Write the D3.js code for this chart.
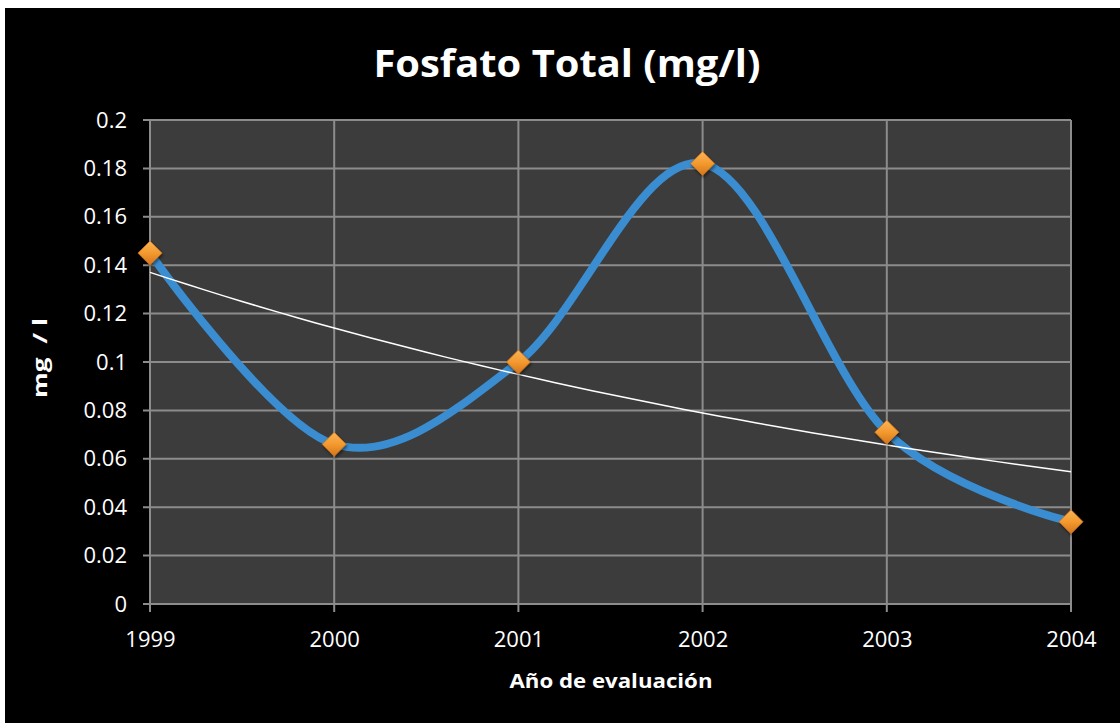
<!DOCTYPE html>
<html><head><meta charset="utf-8">
<script src="https://cdn.jsdelivr.net/npm/d3@7"></script>
<style>
html,body{margin:0;padding:0;background:#fff;}
svg{display:block;}
</style></head>
<body>
<svg id="c" width="1120" height="723"></svg>
<script>
const years = [1999, 2000, 2001, 2002, 2003, 2004];
const values = [0.145, 0.066, 0.100, 0.182, 0.071, 0.034];
const yTicks = [0, 0.02, 0.04, 0.06, 0.08, 0.1, 0.12, 0.14, 0.16, 0.18, 0.2];
const title = "Fosfato Total (mg/l)";
const xTitle = "Año de evaluación";
const yTitle = "mg  / l";

const svg = d3.select("#c");
const W = 1120, H = 723;
svg.append("rect").attr("x", 5).attr("y", 8).attr("width", W - 5).attr("height", H - 8).attr("fill", "#000");

const m = {l: 150, r: 1071, t: 120, b: 604};
const x = d3.scaleLinear().domain([1999, 2004]).range([m.l, m.r]);
const y = d3.scaleLinear().domain([0, 0.2]).range([m.b, m.t]);

svg.append("rect").attr("x", m.l).attr("y", m.t).attr("width", m.r - m.l).attr("height", m.b - m.t).attr("fill", "#3c3c3c");

// gridlines
const grid = svg.append("g").attr("stroke", "#8c8c8c").attr("stroke-width", 2);
yTicks.forEach(t => grid.append("line").attr("x1", m.l - 7).attr("x2", m.r).attr("y1", y(t)).attr("y2", y(t)));
years.forEach(t => grid.append("line").attr("x1", x(t)).attr("x2", x(t)).attr("y1", m.t).attr("y2", m.b + 8));

// tick labels
const yAxis = d3.axisLeft(y).tickValues(yTicks).tickFormat(d => String(+d.toFixed(2))).tickSize(0).tickPadding(23);
const gy = svg.append("g").attr("transform", `translate(${m.l},0)`).call(yAxis);
gy.select(".domain").remove();
gy.selectAll("text").attr("fill", "#fff").style("font-family", "'Open Sans', sans-serif").style("font-size", "22px");

const xAxis = d3.axisBottom(x).tickValues(years).tickFormat(d3.format("d")).tickSize(0).tickPadding(27);
const gx = svg.append("g").attr("transform", `translate(0,${m.b})`).call(xAxis);
gx.select(".domain").remove();
gx.selectAll("text").attr("fill", "#fff").style("font-family", "'Open Sans', sans-serif").style("font-size", "22px");

// data line
const pts = years.map((yr, i) => [yr, values[i]]);
svg.append("path").datum(pts)
  .attr("d", d3.line().x(d => x(d[0])).y(d => y(d[1])).curve(d3.curveCardinal.tension(0)))
  .attr("fill", "none").attr("stroke", "#3a8dd0").attr("stroke-width", 8).attr("stroke-linecap", "round");

// exponential trendline (least squares on log values)
const xs = years.map(v => v - 1999), ls = values.map(Math.log);
const mx = d3.mean(xs), my = d3.mean(ls);
const b = d3.sum(xs.map((v, i) => (v - mx) * (ls[i] - my))) / d3.sum(xs.map(v => (v - mx) ** 2));
const a = my - b * mx;
const trend = d3.range(0, 5.001, 0.1).map(t => [1999 + t, Math.exp(a + b * t)]);
svg.append("path").datum(trend)
  .attr("d", d3.line().x(d => x(d[0])).y(d => y(d[1])))
  .attr("fill", "none").attr("stroke", "#fff").attr("stroke-width", 1.5);

// markers
const defs = svg.append("defs");
const g1 = defs.append("linearGradient").attr("id", "og").attr("x1", 0).attr("y1", 0).attr("x2", 0).attr("y2", 1);
g1.append("stop").attr("offset", 0).attr("stop-color", "#fbb458");
g1.append("stop").attr("offset", 0.5).attr("stop-color", "#f39a2e");
g1.append("stop").attr("offset", 1).attr("stop-color", "#d4741c");
const f = defs.append("filter").attr("id", "sh").attr("x", "-50%").attr("y", "-50%").attr("width", "200%").attr("height", "200%");
f.append("feDropShadow").attr("dx", 1).attr("dy", 2).attr("stdDeviation", 1.5).attr("flood-color", "#000").attr("flood-opacity", 0.5);
const s = 12;
svg.append("g").selectAll("path").data(pts).join("path")
  .attr("transform", d => `translate(${x(d[0])},${y(d[1])})`)
  .attr("d", `M0,${-s}L${s},0L0,${s}L${-s},0Z`)
  .attr("fill", "url(#og)").attr("stroke", "#c8701e").attr("stroke-width", 0.8).attr("filter", "url(#sh)");

// titles
svg.append("text").attr("x", 567).attr("y", 77).attr("text-anchor", "middle")
  .attr("fill", "#fff").style("font-family", "'Open Sans', sans-serif").style("font-weight", "bold").style("font-size", "37px")
  .attr("textLength", 387).attr("lengthAdjust", "spacingAndGlyphs").text(title);
svg.append("text").attr("x", 611).attr("y", 688).attr("text-anchor", "middle")
  .attr("fill", "#fff").style("font-family", "'Open Sans', sans-serif").style("font-weight", "bold").style("font-size", "20px")
  .attr("textLength", 203).attr("lengthAdjust", "spacingAndGlyphs").text(xTitle);
svg.append("text").attr("transform", "translate(47,358) rotate(-90)").attr("text-anchor", "middle")
  .attr("fill", "#fff").style("font-family", "'Open Sans', sans-serif").style("font-weight", "bold").style("font-size", "20px")
  .attr("textLength", 80).attr("lengthAdjust", "spacingAndGlyphs")
  .style("white-space", "pre").text(yTitle);
</script>
</body></html>
